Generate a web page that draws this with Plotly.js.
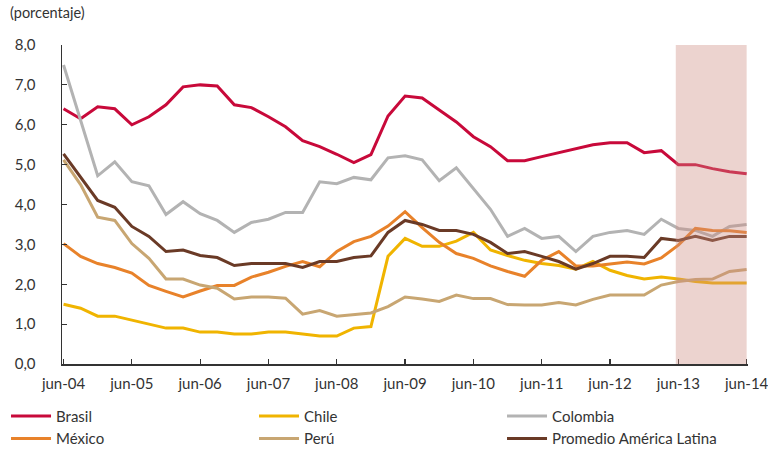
<!DOCTYPE html>
<html>
<head>
<meta charset="utf-8">
<script src="https://cdn.plot.ly/plotly-3.0.1.min.js"></script>
<style>
  html, body { margin: 0; padding: 0; background: #ffffff; }
  #chart { width: 768px; height: 451px; }
</style>
</head>
<body>
<div id="chart"></div>
<script>
// Quarterly periods, jun-04 to jun-14
const periods = [
  "jun-04","sep-04","dic-04","mar-05","jun-05","sep-05","dic-05","mar-06",
  "jun-06","sep-06","dic-06","mar-07","jun-07","sep-07","dic-07","mar-08",
  "jun-08","sep-08","dic-08","mar-09","jun-09","sep-09","dic-09","mar-10",
  "jun-10","sep-10","dic-10","mar-11","jun-11","sep-11","dic-11","mar-12",
  "jun-12","sep-12","dic-12","mar-13","jun-13","sep-13","dic-13","mar-14",
  "jun-14"
];
const tickLabels = ["jun-04","jun-05","jun-06","jun-07","jun-08","jun-09","jun-10","jun-11","jun-12","jun-13","jun-14"];

const brasil = [6.40,6.15,6.45,6.40,6.00,6.20,6.50,6.95,7.00,6.97,6.50,6.43,
  6.20,5.95,5.60,5.45,5.26,5.05,5.25,6.22,6.72,6.67,6.37,6.07,5.70,5.45,5.10,
  5.10,5.20,5.30,5.40,5.50,5.55,5.55,5.30,5.35,5.00,5.00,4.90,4.82,4.77];
const chile = [1.50,1.40,1.20,1.20,1.10,1.00,0.90,0.90,0.80,0.80,0.75,0.75,
  0.80,0.80,0.75,0.70,0.70,0.90,0.94,2.70,3.15,2.95,2.95,3.08,3.30,2.86,2.72,
  2.60,2.52,2.47,2.38,2.57,2.35,2.22,2.13,2.18,2.13,2.07,2.03,2.03,2.03];
const colombia = [7.50,6.10,4.72,5.07,4.57,4.47,3.75,4.07,3.77,3.60,3.30,3.55,
  3.63,3.80,3.80,4.57,4.52,4.68,4.62,5.17,5.22,5.12,4.60,4.92,4.40,3.88,3.20,
  3.40,3.15,3.20,2.82,3.20,3.30,3.35,3.25,3.63,3.40,3.35,3.20,3.45,3.50];
const mexico = [3.02,2.70,2.52,2.42,2.28,1.97,1.82,1.68,1.83,1.97,1.97,2.18,
  2.30,2.45,2.57,2.44,2.82,3.07,3.20,3.46,3.82,3.42,3.05,2.77,2.65,2.46,2.32,
  2.20,2.60,2.82,2.46,2.46,2.51,2.56,2.51,2.66,2.98,3.40,3.35,3.34,3.30];
const peru = [5.12,4.50,3.68,3.60,3.02,2.65,2.13,2.13,1.98,1.90,1.63,1.68,
  1.68,1.65,1.25,1.34,1.20,1.24,1.28,1.44,1.68,1.63,1.57,1.73,1.64,1.64,1.49,
  1.48,1.48,1.54,1.48,1.62,1.73,1.73,1.73,1.98,2.07,2.12,2.13,2.32,2.37];
const promedio = [5.27,4.68,4.10,3.93,3.45,3.20,2.82,2.86,2.72,2.67,2.47,2.52,
  2.52,2.52,2.42,2.57,2.57,2.67,2.71,3.30,3.60,3.50,3.35,3.35,3.25,3.05,2.77,
  2.82,2.70,2.57,2.38,2.52,2.70,2.70,2.67,3.15,3.10,3.20,3.10,3.20,3.20];

// Projection period shaded on the chart
const shadeStart = 35.85;
const shadeEnd = 40;

const idx = periods.map((_, i) => i);
const tickIdx = tickLabels.map(l => periods.indexOf(l));

const series = [
  { name: "Brasil", y: brasil, color: "#C8093A" },
  { name: "Chile", y: chile, color: "#F0B400" },
  { name: "Colombia", y: colombia, color: "#B3B3B3" },
  { name: "México", y: mexico, color: "#E8822A" },
  { name: "Perú", y: peru, color: "#C8A672" },
  { name: "Promedio América Latina", y: promedio, color: "#6A3A26" }
];

const traces = series.map(s => ({
  type: "scatter",
  mode: "lines",
  name: s.name,
  x: idx,
  y: s.y,
  line: { color: s.color, width: 3 },
  hoverinfo: "x+y"
}));

const font = { family: "Lato, 'Open Sans', sans-serif", size: 15, color: "#333333" };

const layout = {
  width: 768,
  height: 451,
  margin: { l: 62, r: 20, t: 45, b: 87, autoexpand: false },
  paper_bgcolor: "#ffffff",
  plot_bgcolor: "#ffffff",
  font: font,
  separators: ",.",
  showlegend: true,
  xaxis: {
    range: [-0.09, 40.08],
    tickvals: tickIdx,
    ticktext: tickLabels,
    showgrid: false,
    zeroline: false,
    showline: true,
    linecolor: "#333333",
    linewidth: 1.5,
    ticks: "inside",
    ticklen: 5,
    tickcolor: "#333333",
    tickwidth: 1.2,
    tickfont: font,
    ticklabelstandoff: 5,
    ticklabeloverflow: "allow"
  },
  yaxis: {
    range: [0, 8],
    dtick: 1,
    tickformat: ".1f",
    showgrid: false,
    zeroline: false,
    showline: true,
    linecolor: "#333333",
    linewidth: 1.5,
    ticks: "inside",
    ticklen: 5,
    tickcolor: "#333333",
    tickwidth: 1.2,
    tickfont: font,
    ticklabelstandoff: 22
  },
  shapes: [{
    type: "rect",
    xref: "x",
    yref: "y",
    x0: shadeStart,
    x1: shadeEnd,
    y0: 0,
    y1: 8,
    fillcolor: "rgba(205,140,128,0.38)",
    line: { width: 0 },
    layer: "above"
  }],
  annotations: [{
    text: "(porcentaje)",
    xref: "paper",
    yref: "paper",
    x: -0.079,
    y: 1.07,
    xanchor: "left",
    yanchor: "bottom",
    showarrow: false,
    font: Object.assign({}, font, { size: 14.5 })
  }],
  legend: {
    orientation: "h",
    x: -0.0816,
    xanchor: "left",
    y: -0.112,
    yanchor: "top",
    entrywidth: 193,
    entrywidthmode: "pixels",
    itemwidth: 40,
    tracegroupgap: 0,
    font: font,
    bgcolor: "rgba(0,0,0,0)"
  }
};

Plotly.newPlot("chart", traces, layout, { displayModeBar: false, staticPlot: true });
</script>
</body>
</html>
